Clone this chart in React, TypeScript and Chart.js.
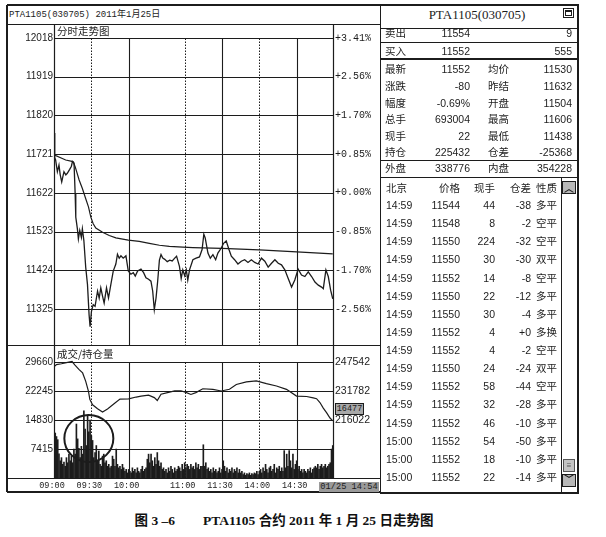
import React, { useEffect, useRef } from "react";
import { Chart, registerables } from "chart.js";
Chart.register(...registerables);

// ---------------- data ----------------
const PREV_BASE = 11622;
const PRICE_TICKS = [11325, 11424, 11523, 11622, 11721, 11820, 11919, 12018];
const VOL_TICKS = [7415, 14830, 22245, 29660];
const OI_TICKS = [216022, 231782, 247542];
const TIME_TICKS = [0, 30, 60, 105, 135, 165, 195];
const TIME_LABELS = ["09:00", "09:30", "10:00", "11:00", "11:30", "14:00", "14:30"];
const SOLID_TIMES = [60, 135, 195];
const DOTTED_TIMES = [30, 105, 165];

// minutes of trading since 09:00 (sessions joined)
const PRICE_T = [0, 0.6, 1.3, 2.7, 4, 5, 6.2, 8, 9.5, 10.7, 12.6, 14, 14.8, 16.1, 17, 17.5, 18.8, 19.6, 20.7, 22,
  22.8, 24, 25.5, 26.9, 28.2, 29, 30.1, 31.5, 33, 35, 36.3, 37.6, 39, 40.3, 42.2, 43.8, 45.7, 47.6, 49.7, 51,
  52.4, 53.8, 55.6, 57.8, 59.7, 61.8, 63.7, 65.3, 67.2, 69.9, 72, 73.9, 76, 77.9, 79.3, 80.6, 82, 83.3, 84.7, 86,
  87.4, 89, 91, 93, 95, 97, 98.5, 100.8, 102.2, 103.5, 105, 106.3, 107.5, 108.9, 111.6, 114.2, 116.9, 119, 120.4, 121.5,
  123.7, 125.6, 127.7, 129.9, 131.7, 134.4, 136.3, 138.4, 140.6, 142.5, 145.1, 147.8, 150.5, 153.2, 155.9, 158.6, 161.3, 164, 166.7, 169.4,
  172.1, 174.8, 177.5, 180.2, 182.8, 185.5, 188.2, 190.9, 193.5, 196.2, 198.9, 201.6, 204.3, 207, 209.7, 212.4, 215, 216.4, 218.5, 220.4,
  222.3, 224];
const PRICE_V = [11775, 11712, 11706, 11676, 11693, 11668, 11650, 11676, 11668, 11672, 11682, 11690, 11702, 11698, 11620, 11560, 11530, 11504, 11526, 11508,
  11530, 11500, 11431, 11388, 11310, 11280, 11319, 11336, 11332, 11371, 11353, 11379, 11358, 11340, 11379, 11353, 11388, 11422, 11440, 11465,
  11455, 11461, 11455, 11461, 11422, 11414, 11418, 11409, 11422, 11427, 11418, 11405, 11401, 11396, 11371, 11323, 11353, 11396, 11450, 11464,
  11455, 11452, 11446, 11450, 11448, 11455, 11460, 11434, 11403, 11425, 11410, 11425, 11399, 11425, 11451, 11455, 11458, 11477, 11516, 11507,
  11468, 11455, 11464, 11451, 11468, 11481, 11493, 11499, 11477, 11460, 11451, 11440, 11447, 11451, 11444, 11451, 11444, 11440, 11455, 11447,
  11432, 11442, 11451, 11442, 11438, 11425, 11403, 11381, 11399, 11427, 11412, 11408, 11420, 11408, 11394, 11386, 11381, 11377, 11425, 11408,
  11373, 11351];

const AVG_T = [0, 9.4, 15.3, 17, 20.2, 22.8, 25.5, 27.7, 29.6, 31.5, 33.6, 39, 44.4, 49.7, 59.7, 68.5, 76.6, 84.7, 92.7, 103.5, 111.6, 135, 165, 195, 224];
const AVG_V = [11719, 11706, 11702, 11689, 11655, 11633, 11607, 11586, 11560, 11543, 11532, 11521, 11513, 11507, 11501, 11498, 11493, 11488, 11485, 11483, 11482, 11480, 11476, 11471, 11466];

const OI_T = [0, 2, 6, 10, 14.5, 16.7, 20, 23, 25.5, 27.7, 28.8, 31, 35, 39, 43, 48, 53, 60, 66, 70,
  76, 80.6, 83, 86, 92, 97, 102, 106, 110, 114, 119.6, 127.7, 134.4, 141, 146.5, 154.6, 162.6, 170.7, 178.8, 186.8,
  194.9, 203, 208.3, 211, 213.7, 216.4, 219, 221.8, 224];
const OI_V = [245000, 246100, 246600, 247200, 247800, 246000, 243500, 241600, 237000, 231600, 227200, 224300, 222100, 220400, 222000, 224700, 227400, 227500, 228500, 229000,
  229500, 228200, 226600, 230000, 231000, 231800, 231900, 231000, 229900, 230900, 233000, 232700, 231800, 232700, 235300, 236700, 237300, 235800, 234500, 232700,
  229000, 228800, 228000, 227600, 225500, 222500, 220000, 217100, 215500];

// volume per minute, minute 0 .. 224
const VOLUMES = [
  14800, 11500, 10600, 9800, 6200, 4400, 5200, 3500, 4100, 3000, 5200, 3900, 6100, 4400, 5600,
  3900, 7400, 6100, 13800, 10000, 7600, 5200, 8100, 6100, 17200, 12500, 8300, 16100, 11800, 14800,
  10800, 9600, 5200, 6500, 8300, 4400, 6900, 3500, 3000, 5600, 6100, 3900, 4400, 3000, 3500,
  2600, 3000, 5600, 4800, 3000, 7400, 3500, 2600, 3000, 2200, 3500, 2600, 1700, 2200, 1300,
  2200, 1700, 1300, 2600, 1700, 2200, 1300, 2600, 1700, 1300, 2200, 3000, 1700, 2200, 2600,
  4800, 6100, 3900, 6100, 4400, 3000, 5200, 3500, 6500, 4400, 3000, 3900, 2200, 2600, 1700,
  2200, 1300, 2600, 1700, 3000, 2200, 1300, 2600, 1700, 2200, 3000, 2600, 1700, 3500, 2200,
  3900, 2600, 3500, 3000, 2200, 3500, 2600, 3000, 2200, 3900, 2600, 3500, 2200, 3000, 3000,
  8500, 3000, 3900, 2200, 2600, 1700, 2200, 1300, 2600, 1700, 2200, 1300, 1700, 2600, 1300,
  2200, 4400, 3000, 1700, 2600, 1300, 2200, 1700, 2600, 1300, 2200, 1700, 2600, 1300, 2200,
  1300, 1700, 900, 1300, 700, 1100, 900, 1300, 700, 1100, 900, 1300, 1100, 1700, 900,
  1700, 2200, 1300, 2600, 1700, 3500, 2200, 1300, 2600, 3000, 1700, 2200, 3500, 1300, 2600,
  2200, 3000, 1700, 2600, 1700, 7000, 2600, 6100, 3000, 7000, 4400, 2600, 6100, 2200, 3500,
  4400, 2200, 3000, 1700, 2200, 1300, 2200, 1700, 1300, 2200, 1700, 2600, 1300, 2200, 2600,
  3000, 2600, 3500, 2200, 3000, 3500, 2600, 3000, 3500, 2600, 3000, 3500, 3900, 7400, 8300,
];

const QUOTE_LABELS_L = ["卖出", "买入", "最新", "涨跌", "幅度", "总手", "现手", "持仓", "外盘"];
const QUOTE_VALUES_L = ["11554", "11552", "11552", "-80", "-0.69%", "693004", "22", "225432", "338776"];
const QUOTE_LABELS_R = ["", "", "均价", "昨结", "开盘", "最高", "最低", "仓差", "内盘"];
const QUOTE_VALUES_R = ["9", "555", "11530", "11632", "11504", "11606", "11438", "-25368", "354228"];

const TRADE_HEAD = ["北京", "价格", "现手", "仓差", "性质"];
const TRADE_TIMES = ["14:59", "14:59", "14:59", "14:59", "14:59", "14:59", "14:59", "14:59", "14:59", "14:59", "14:59", "14:59", "14:59", "15:00", "15:00", "15:00"];
const TRADE_PRICES = ["11544", "11548", "11550", "11550", "11552", "11550", "11550", "11552", "11552", "11550", "11552", "11552", "11552", "11552", "11552", "11552"];
const TRADE_VOLS = ["44", "8", "224", "30", "14", "22", "30", "4", "4", "24", "58", "32", "46", "54", "18", "22"];
const TRADE_OI = ["-38", "-2", "-32", "-30", "-8", "-12", "-4", "+0", "-2", "-24", "-44", "-28", "-10", "-50", "-10", "-14"];
const TRADE_TYPES = ["多平", "空平", "空平", "双平", "空平", "多平", "多平", "多换", "空平", "双平", "空平", "多平", "多平", "多平", "多平", "多平"];

// ---------------- style ----------------
const INK = "#1c1c1c";
const SANS = "'Liberation Sans', 'Noto Sans CJK SC', sans-serif";
const MONO = "'Liberation Mono', 'Noto Sans CJK SC', monospace";
const SERIF = "'Liberation Serif', 'Noto Sans CJK SC', serif";

const PRICE_MIN = 11232.9;
const PRICE_MAX = 12053.8;
const VOL_MAX = 34006;
const OI_MIN = 184502;
const OI_MAX = 256779;

const pts = (ts: number[], vs: number[]) => ts.map((t, i) => ({ x: t, y: vs[i] }));

function gridPlugin(label: string, hTicks: number[], topTick: number, circle: boolean) {
  return {
    id: "panelGrid",
    beforeDatasetsDraw(chart: any) {
      const { ctx, chartArea: ca, scales } = chart;
      const x = scales.x, y = scales.y;
      const ln = (x1: number, y1: number, x2: number, y2: number) => {
        ctx.beginPath(); ctx.moveTo(x1, y1); ctx.lineTo(x2, y2); ctx.stroke();
      };
      ctx.save();
      ctx.strokeStyle = INK;
      ctx.lineWidth = 1.1;
      hTicks.forEach((v) => {
        const py = Math.round(y.getPixelForValue(v)) + 0.5;
        ln(ca.left, py, ca.right, py);
      });
      const topY = Math.round(y.getPixelForValue(topTick)) + 0.5;
      SOLID_TIMES.forEach((t) => {
        const px = Math.round(x.getPixelForValue(t)) + 0.5;
        ln(px, topY, px, ca.bottom);
      });
      ctx.lineWidth = 1;
      ctx.setLineDash([1.5, 1.5]);
      DOTTED_TIMES.forEach((t) => {
        const px = Math.round(x.getPixelForValue(t)) + 0.5;
        ln(px, topY, px, ca.bottom);
      });
      ctx.setLineDash([]);
      ctx.lineWidth = 1.2;
      ln(ca.left + 0.5, ca.top, ca.left + 0.5, ca.bottom);
      ln(ca.right - 0.5, ca.top, ca.right - 0.5, ca.bottom);
      ctx.fillStyle = INK;
      ctx.font = "10.5px 'Noto Sans CJK SC'";
      ctx.textBaseline = "middle";
      ctx.fillText(label, ca.left + 3, (ca.top + topY) / 2);
      ctx.restore();
    },
    afterDatasetsDraw(chart: any) {
      if (!circle) return;
      const { ctx, scales } = chart;
      ctx.save();
      ctx.strokeStyle = INK;
      ctx.lineWidth = 2;
      ctx.beginPath();
      ctx.ellipse(scales.x.getPixelForValue(28), scales.y.getPixelForValue(10100), 24.5, 23.5, 0, 0, Math.PI * 2);
      ctx.stroke();
      ctx.restore();
    },
  };
}

const pct = (v: number) => {
  const p = ((v - PREV_BASE) / PREV_BASE) * 100;
  return (p >= 0 ? "+" : "-") + Math.abs(p).toFixed(2) + "%";
};

function PriceChart() {
  const ref = useRef<HTMLCanvasElement>(null);
  useEffect(() => {
    const chart = new Chart(ref.current as HTMLCanvasElement, {
      type: "line",
      data: {
        datasets: [
          { data: pts(PRICE_T, PRICE_V), borderColor: INK, borderWidth: 1.3, pointRadius: 0, tension: 0 },
          { data: pts(AVG_T, AVG_V), borderColor: INK, borderWidth: 1.2, pointRadius: 0, tension: 0 },
        ],
      } as any,
      options: {
        animation: false,
        responsive: false,
        events: [],
        layout: { padding: 0, autoPadding: false },
        plugins: { legend: { display: false }, tooltip: { enabled: false } },
        scales: {
          x: { type: "linear", min: 0, max: 225, display: false },
          y: {
            type: "linear", position: "left", min: PRICE_MIN, max: PRICE_MAX,
            afterBuildTicks: (s: any) => { s.ticks = PRICE_TICKS.map((v) => ({ value: v })); },
            afterFit: (s: any) => { s.width = 47; s.paddingTop = 0; s.paddingBottom = 0; },
            grid: { display: false, drawTicks: false }, border: { display: false },
            ticks: { padding: 1, color: INK, font: { family: SANS, size: 10 }, callback: (v: any) => String(v) },
          },
          yR: {
            type: "linear", position: "right", min: PRICE_MIN, max: PRICE_MAX,
            afterBuildTicks: (s: any) => { s.ticks = PRICE_TICKS.map((v) => ({ value: v })); },
            afterFit: (s: any) => { s.width = 46; s.paddingTop = 0; s.paddingBottom = 0; },
            grid: { display: false, drawTicks: false }, border: { display: false },
            ticks: { padding: 1, color: INK, font: { family: MONO, size: 10 }, callback: (v: any) => pct(Number(v)) },
          },
        },
      } as any,
      plugins: [gridPlugin("分时走势图", PRICE_TICKS, 12018, false)],
    });
    return () => chart.destroy();
  }, []);
  return <canvas ref={ref} width={373} height={321} style={{ position: "absolute", left: 7, top: 24, width: 373, height: 321 }} />;
}

function VolumeChart() {
  const ref = useRef<HTMLCanvasElement>(null);
  useEffect(() => {
    const chart = new Chart(ref.current as HTMLCanvasElement, {
      type: "bar",
      data: {
        datasets: [
          { type: "line", data: pts(OI_T, OI_V), yAxisID: "yR", borderColor: INK, borderWidth: 1.2, pointRadius: 0, tension: 0, order: 0 },
          { type: "bar", data: VOLUMES.map((v, i) => ({ x: i, y: v })), yAxisID: "y", backgroundColor: INK, barThickness: 1, grouped: false, order: 1 },
        ],
      } as any,
      options: {
        animation: false,
        responsive: false,
        events: [],
        layout: { padding: 0, autoPadding: false },
        plugins: { legend: { display: false }, tooltip: { enabled: false } },
        scales: {
          x: {
            type: "linear", min: 0, max: 225, offset: false, position: "bottom",
            afterBuildTicks: (s: any) => { s.ticks = TIME_TICKS.map((v) => ({ value: v })); },
            afterFit: (s: any) => { s.height = 14; s.paddingLeft = 0; s.paddingRight = 0; },
            grid: { display: false, drawTicks: false, offset: false }, border: { display: false },
            ticks: {
              padding: 3, color: INK, autoSkip: false, maxRotation: 0, labelOffset: -2,
              font: { family: MONO, size: 8.5 },
              callback: (_v: any, i: number) => TIME_LABELS[i],
            },
          },
          y: {
            type: "linear", position: "left", min: 0, max: VOL_MAX,
            afterBuildTicks: (s: any) => { s.ticks = VOL_TICKS.map((v) => ({ value: v })); },
            afterFit: (s: any) => { s.width = 47; s.paddingTop = 0; s.paddingBottom = 0; },
            grid: { display: false, drawTicks: false }, border: { display: false },
            ticks: { padding: 1, color: INK, font: { family: SANS, size: 10 }, callback: (v: any) => String(v) },
          },
          yR: {
            type: "linear", position: "right", min: OI_MIN, max: OI_MAX,
            afterBuildTicks: (s: any) => { s.ticks = OI_TICKS.map((v) => ({ value: v })); },
            afterFit: (s: any) => { s.width = 46; s.paddingTop = 0; s.paddingBottom = 0; },
            grid: { display: false, drawTicks: false }, border: { display: false },
            ticks: { padding: 1, color: INK, font: { family: SANS, size: 10.5 }, callback: (v: any) => String(v) },
          },
        },
      } as any,
      plugins: [gridPlugin("成交/持仓量", VOL_TICKS, 29660, true)],
    });
    return () => chart.destroy();
  }, []);
  return <canvas ref={ref} width={373} height={147} style={{ position: "absolute", left: 7, top: 345, width: 373, height: 147 }} />;
}

// ---------------- html helpers ----------------
function HL({ x1, x2, y, t = 1 }: { x1: number; x2: number; y: number; t?: number }) {
  return <div style={{ position: "absolute", left: x1, top: y - t / 2, width: x2 - x1, height: t, background: INK }} />;
}
function VL({ x, y1, y2, t = 1 }: { x: number; y1: number; y2: number; t?: number }) {
  return <div style={{ position: "absolute", left: x - t / 2, top: y1, width: t, height: y2 - y1, background: INK }} />;
}
function Tx({ x, y, s, align = "left", size = 10.5, family = SANS, w = 90 }: any) {
  const h = 16;
  const st: any = {
    position: "absolute", top: y - h / 2, height: h, lineHeight: h + "px", fontSize: size,
    fontFamily: family, color: INK, whiteSpace: "nowrap",
  };
  if (align === "right") { st.left = x - w; st.width = w; st.textAlign = "right"; }
  else if (align === "center") { st.left = x - w / 2; st.width = w; st.textAlign = "center"; }
  else st.left = x;
  return <div style={st}>{s}</div>;
}

const QUOTE_Y = [33, 50.5, 68.5, 85.5, 102.5, 119, 135.5, 152, 168];

export default function App() {
  return (
    <div style={{ position: "absolute", left: 0, top: 0, width: 606, height: 537, background: "#fff", overflow: "hidden" }}>
      {/* left panel frame */}
      <HL x1={7} x2={381} y={5} t={1.5} />
      <HL x1={7} x2={381} y={492} t={1.5} />
      <VL x={7} y1={5} y2={492} t={1.5} />
      <HL x1={7} x2={381} y={24} />
      <HL x1={7} x2={381} y={345} />
      <HL x1={7} x2={381} y={478} />
      <Tx x={9} y={15} s="PTA1105(030705) 2011年1月25日" family={MONO} size={9} />

      <PriceChart />
      <VolumeChart />

      {/* value boxes */}
      <div style={{ position: "absolute", left: 335, top: 403, width: 29, height: 12, border: `1px solid ${INK}`, boxSizing: "border-box", background: "#a8a8a8", fontFamily: MONO, fontSize: 8.5, lineHeight: "10px", color: INK, textAlign: "center", whiteSpace: "nowrap" }}>16477</div>
      <div style={{ position: "absolute", left: 319, top: 482, width: 60, height: 10, background: "#9a9a9a", fontFamily: MONO, fontSize: 8.7, lineHeight: "10px", color: INK, textAlign: "center", whiteSpace: "nowrap" }}>01/25 14:54</div>

      {/* right table frame */}
      <HL x1={380} x2={579} y={5} t={1.5} />
      <HL x1={380} x2={579} y={493} t={2} />
      <VL x={380.5} y1={5} y2={493} t={1.5} />
      <VL x={578} y1={5} y2={493} t={1.5} />
      <HL x1={381} x2={578} y={28} />
      <HL x1={381} x2={578} y={42.5} t={1.5} />
      <HL x1={381} x2={578} y={59} t={1.5} />
      <HL x1={381} x2={578} y={160.5} t={1.5} />
      <HL x1={381} x2={578} y={177.5} t={1.5} />
      <VL x={561} y1={178} y2={493} />

      <Tx x={477} y={15} s="PTA1105(030705)" align="center" family={SERIF} size={13} w={150} />
      <div style={{ position: "absolute", left: 563, top: 8, width: 11, height: 10, border: `1px solid ${INK}`, boxSizing: "border-box" }}>
        <div style={{ position: "absolute", left: 1, top: 1, width: 7, height: 6, border: `1px solid ${INK}`, borderTopWidth: 2, boxSizing: "border-box" }} />
      </div>

      {QUOTE_LABELS_L.map((l, i) => (
        <React.Fragment key={"q" + i}>
          <Tx x={385} y={QUOTE_Y[i]} s={l} />
          <Tx x={470} y={QUOTE_Y[i]} s={QUOTE_VALUES_L[i]} align="right" />
          {QUOTE_LABELS_R[i] ? <Tx x={488} y={QUOTE_Y[i]} s={QUOTE_LABELS_R[i]} /> : null}
          <Tx x={572} y={QUOTE_Y[i]} s={QUOTE_VALUES_R[i]} align="right" />
        </React.Fragment>
      ))}

      <Tx x={386} y={188} s={TRADE_HEAD[0]} />
      <Tx x={460} y={188} s={TRADE_HEAD[1]} align="right" />
      <Tx x={495} y={188} s={TRADE_HEAD[2]} align="right" />
      <Tx x={531} y={188} s={TRADE_HEAD[3]} align="right" />
      <Tx x={536} y={188} s={TRADE_HEAD[4]} />

      {TRADE_TIMES.map((t, i) => {
        const y = 205 + i * 18.13;
        return (
          <React.Fragment key={"t" + i}>
            <Tx x={386} y={y} s={t} />
            <Tx x={460} y={y} s={TRADE_PRICES[i]} align="right" />
            <Tx x={495} y={y} s={TRADE_VOLS[i]} align="right" />
            <Tx x={531} y={y} s={TRADE_OI[i]} align="right" />
            <Tx x={536} y={y} s={TRADE_TYPES[i]} />
          </React.Fragment>
        );
      })}

      {/* scrollbar */}
      <div style={{ position: "absolute", left: 562, top: 181, width: 14, height: 13, background: "#b8b8b8", border: `1px solid ${INK}`, boxSizing: "border-box", fontFamily: SANS, fontSize: 10, fontWeight: "bold", lineHeight: "14px", textAlign: "center", color: INK }}>︿</div>
      <div style={{ position: "absolute", left: 563, top: 459, width: 12, height: 13, background: "#c4c4c4", border: `1px solid #555`, boxSizing: "border-box", fontFamily: SANS, fontSize: 8, lineHeight: "11px", textAlign: "center", color: "#555" }}>≡</div>
      <div style={{ position: "absolute", left: 562, top: 474, width: 14, height: 13, background: "#b8b8b8", border: `1px solid ${INK}`, boxSizing: "border-box", fontFamily: SANS, fontSize: 10, fontWeight: "bold", lineHeight: "10px", textAlign: "center", color: INK }}>﹀</div>

      {/* caption */}
      <div style={{ position: "absolute", left: 0, width: 568, top: 511, height: 20, lineHeight: "20px", textAlign: "center", fontWeight: "bold", fontSize: 13.5, fontFamily: SERIF, color: "#111", whiteSpace: "nowrap" }}>
        <span>图 3 –6</span>
        <span style={{ marginLeft: 28 }}>PTA1105 合约 2011 年 1 月 25 日走势图</span>
      </div>
    </div>
  );
}
